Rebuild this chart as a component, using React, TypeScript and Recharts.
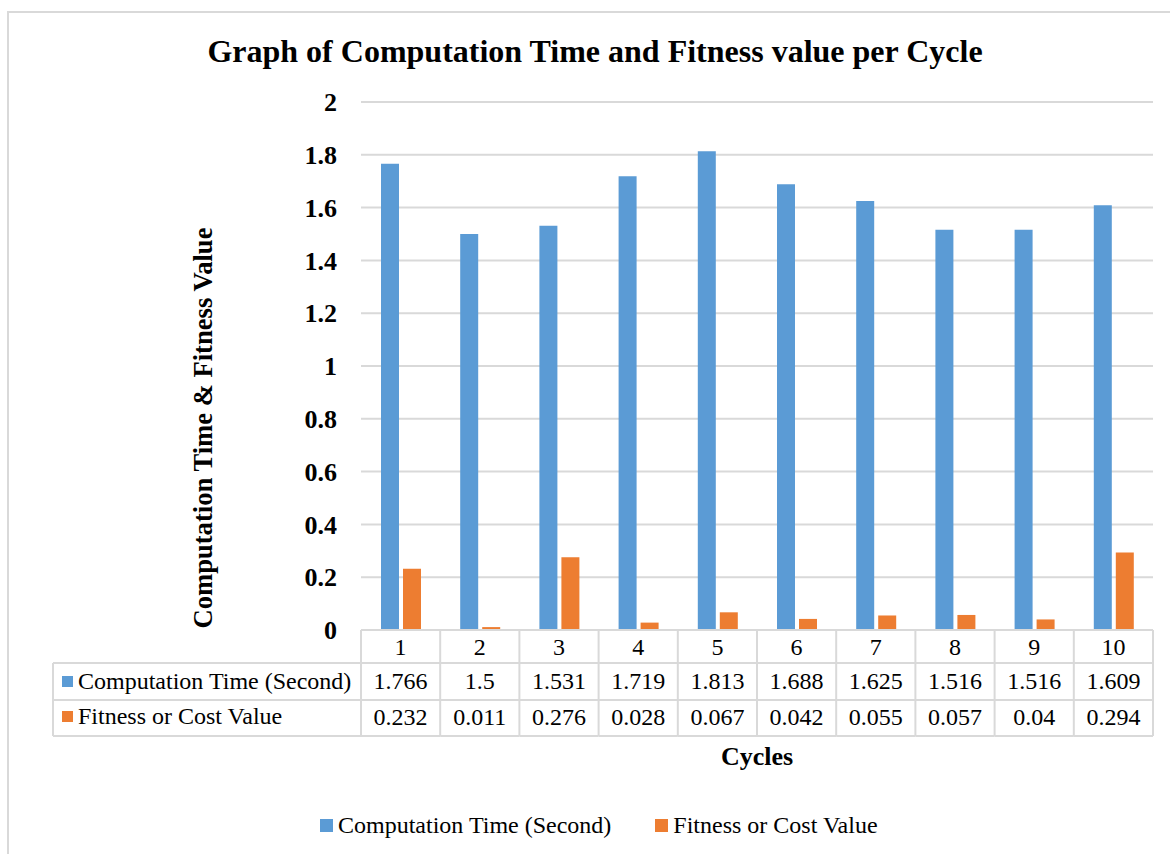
import React from 'react';
import {
  BarChart,
  Bar,
  XAxis,
  YAxis,
  CartesianGrid,
  Legend,
} from 'recharts';

const cycles = ['1', '2', '3', '4', '5', '6', '7', '8', '9', '10'];
const computationTime = [1.766, 1.5, 1.531, 1.719, 1.813, 1.688, 1.625, 1.516, 1.516, 1.609];
const fitnessValue = [0.232, 0.011, 0.276, 0.028, 0.067, 0.042, 0.055, 0.057, 0.04, 0.294];
const yTicks = [0, 0.2, 0.4, 0.6, 0.8, 1, 1.2, 1.4, 1.6, 1.8, 2];

const seriesNames = ['Computation Time (Second)', 'Fitness or Cost Value'];
const seriesColors = ['#5B9BD5', '#ED7D31'];

const data = cycles.map((c, i) => ({
  cycle: c,
  time: computationTime[i],
  fitness: fitnessValue[i],
}));

const FONT = "'Liberation Serif', 'Times New Roman', serif";
const GRID = '#D9D9D9';

// layout
const W = 1170;
const H = 854;
const PLOT_LEFT = 361;
const PLOT_RIGHT = 1153;
const PLOT_TOP = 102;
const PLOT_BOTTOM = 630;
const BAND = (PLOT_RIGHT - PLOT_LEFT) / cycles.length;
const ROW1 = 663;
const ROW2 = 700;
const ROW3 = 736;
const TABLE_LEFT = 53;

function TableColumn(props: any) {
  const { x, payload } = props;
  const i = props.index ?? payload.index;
  const left = x - BAND / 2;
  const right = x + BAND / 2;
  const line = { stroke: GRID, strokeWidth: 2 };
  const txt = { fontFamily: FONT, fontSize: 24, fill: '#000', textAnchor: 'middle' as const };
  return (
    <g>
      <line x1={left} y1={PLOT_BOTTOM} x2={left} y2={ROW3} {...line} />
      {i === cycles.length - 1 && <line x1={right} y1={PLOT_BOTTOM} x2={right} y2={ROW3} {...line} />}
      <line x1={left} y1={ROW1} x2={right} y2={ROW1} {...line} />
      <line x1={left} y1={ROW2} x2={right} y2={ROW2} {...line} />
      <line x1={left} y1={ROW3} x2={right} y2={ROW3} {...line} />
      <text x={x} y={655} {...txt}>{payload.value}</text>
      <text x={x} y={689} {...txt}>{computationTime[i]}</text>
      <text x={x} y={725} {...txt}>{fitnessValue[i]}</text>
      {i === 0 && (
        <g>
          <line x1={TABLE_LEFT} y1={ROW1} x2={TABLE_LEFT} y2={ROW3} {...line} />
          <line x1={TABLE_LEFT} y1={ROW1} x2={left} y2={ROW1} {...line} />
          <line x1={TABLE_LEFT} y1={ROW2} x2={left} y2={ROW2} {...line} />
          <line x1={TABLE_LEFT} y1={ROW3} x2={left} y2={ROW3} {...line} />
          <rect x={62} y={676} width={11} height={11} fill={seriesColors[0]} />
          <text x={78} y={689} fontFamily={FONT} fontSize={24} fill="#000">{seriesNames[0]}</text>
          <rect x={62} y={711} width={11} height={11} fill={seriesColors[1]} />
          <text x={78} y={724} fontFamily={FONT} fontSize={24} fill="#000">{seriesNames[1]}</text>
        </g>
      )}
    </g>
  );
}

function LegendContent(props: any) {
  const items = props.payload || [];
  return (
    <div style={{ display: 'flex', alignItems: 'center', paddingLeft: 320, fontFamily: FONT, fontSize: 24, color: '#000' }}>
      {items.map((it: any, k: number) => (
        <div key={k} style={{ display: 'flex', alignItems: 'center', marginRight: 44 }}>
          <span style={{ display: 'inline-block', width: 13, height: 13, background: it.color, marginRight: 5 }} />
          <span>{it.value}</span>
        </div>
      ))}
    </div>
  );
}

export default function App() {
  return (
    <div style={{ position: 'fixed', left: 0, top: 0, width: W, height: H, overflow: 'hidden', background: '#fff' }}>
      <div style={{ position: 'absolute', left: 7, top: 11, width: 1300, height: 1000, border: `2px solid ${GRID}` }} />
      <div
        style={{
          position: 'absolute',
          left: 0,
          width: 1190,
          top: 35,
          lineHeight: '32px',
          textAlign: 'center',
          fontFamily: FONT,
          fontWeight: 'bold',
          fontSize: 32,
          color: '#000',
        }}
      >
        Graph of Computation Time and Fitness value per Cycle
      </div>
      <div style={{ position: 'absolute', left: 0, top: 0 }}>
        <BarChart
          width={W}
          height={H}
          data={data}
          margin={{ top: PLOT_TOP, right: W - PLOT_RIGHT, bottom: H - PLOT_BOTTOM - 107, left: PLOT_LEFT - 60 }}
          barSize={18}
          barGap={4}
        >
          <CartesianGrid vertical={false} stroke={GRID} strokeWidth={2} />
          <XAxis
            dataKey="cycle"
            height={107}
            axisLine={{ stroke: GRID, strokeWidth: 2 }}
            tickLine={false}
            tick={<TableColumn />}
            interval={0}
            label={() => (
              <text x={(PLOT_LEFT + PLOT_RIGHT) / 2} y={765} textAnchor="middle" fontFamily={FONT} fontWeight="bold" fontSize={26} fill="#000">
                Cycles
              </text>
            )}
          />
          <YAxis
            width={60}
            domain={[0, 2]}
            ticks={yTicks}
            axisLine={false}
            tickLine={false}
            tickSize={0}
            tickMargin={24}
            tick={{ fontFamily: FONT, fontWeight: 'bold', fontSize: 26, fill: '#000' }}
            label={() => (
              <text
                x={212}
                y={428}
                transform="rotate(-90, 212, 428)"
                textAnchor="middle"
                fontFamily={FONT}
                fontWeight="bold"
                fontSize={26.6}
                fill="#000"
              >
                Computation Time &amp; Fitness Value
              </text>
            )}
          />
          <Legend
            verticalAlign="middle"
            layout="horizontal"
            content={<LegendContent />}
            wrapperStyle={{ top: 812, left: 0, width: W, height: 32 }}
          />
          <Bar dataKey="time" name={seriesNames[0]} fill={seriesColors[0]} isAnimationActive={false} />
          <Bar dataKey="fitness" name={seriesNames[1]} fill={seriesColors[1]} isAnimationActive={false} />
        </BarChart>
      </div>
    </div>
  );
}
